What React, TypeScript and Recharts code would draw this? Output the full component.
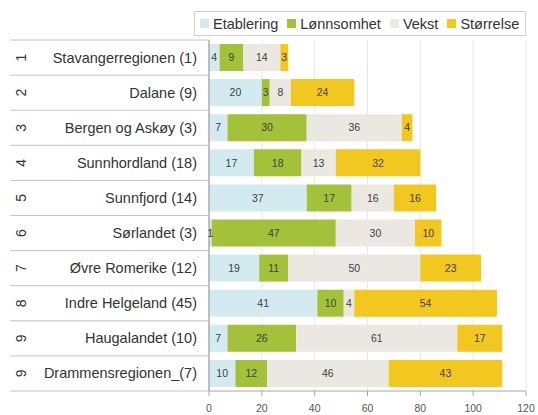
import React from "react";
import {
  BarChart,
  Bar,
  XAxis,
  YAxis,
  CartesianGrid,
  LabelList,
} from "recharts";

const regions = [
  "Stavangerregionen (1)",
  "Dalane (9)",
  "Bergen og Askøy (3)",
  "Sunnhordland (18)",
  "Sunnfjord (14)",
  "Sørlandet (3)",
  "Øvre Romerike (12)",
  "Indre Helgeland (45)",
  "Haugalandet (10)",
  "Drammensregionen_(7)",
];
const ranks = ["1", "2", "3", "4", "5", "6", "7", "8", "9", "9"];

const etablering = [4, 20, 7, 17, 37, 1, 19, 41, 7, 10];
const lonnsomhet = [9, 3, 30, 18, 17, 47, 11, 10, 26, 12];
const vekst = [14, 8, 36, 13, 16, 30, 50, 4, 61, 46];
const storrelse = [3, 24, 4, 32, 16, 10, 23, 54, 17, 43];

const xTicks = [0, 20, 40, 60, 80, 100, 120];

const seriesNames = ["Etablering", "Lønnsomhet", "Vekst", "Størrelse"];
const seriesKeys = ["etablering", "lonnsomhet", "vekst", "storrelse"];
const COLORS = ["#d3ebf0", "#a3c23a", "#ebe8e1", "#f2c71f"];

const data = regions.map((name, i) => ({
  name,
  rank: ranks[i],
  etablering: etablering[i],
  lonnsomhet: lonnsomhet[i],
  vekst: vekst[i],
  storrelse: storrelse[i],
}));

const W = 538;
const H = 415;
const AXIS_W = 209;
const TOP = 40;
const X_AXIS_H = 24;
const ROW_HALF = (H - TOP - X_AXIS_H) / regions.length / 2;
const FONT = "'Liberation Sans', Arial, sans-serif";

function CategoryTick(props: any) {
  const { y, payload, index } = props;
  const i = payload.index ?? index;
  const last = i === regions.length - 1;
  return (
    <g>
      <line x1={10} x2={AXIS_W} y1={y - ROW_HALF} y2={y - ROW_HALF} stroke="#c4c4c4" />
      {last && (
        <line x1={10} x2={AXIS_W} y1={y + ROW_HALF} y2={y + ROW_HALF} stroke="#c4c4c4" />
      )}
      <text
        x={21}
        y={y}
        transform={`rotate(-90 21 ${y})`}
        textAnchor="middle"
        dominantBaseline="central"
        fontSize={14}
        fill="#333"
        fontFamily={FONT}
      >
        {ranks[i]}
      </text>
      <text
        x={197}
        y={y}
        textAnchor="end"
        dominantBaseline="central"
        fontSize={14.5}
        fill="#333"
        fontFamily={FONT}
      >
        {payload.value}
      </text>
    </g>
  );
}

function XTick(props: any) {
  const { x, y, payload } = props;
  return (
    <text
      x={x}
      y={y}
      dy={13}
      textAnchor="middle"
      fontSize={10.5}
      fill="#555"
      fontFamily={FONT}
    >
      {payload.value}
    </text>
  );
}

function LegendBox() {
  return (
    <div
      style={{
        position: "absolute",
        left: 194,
        top: 11,
        width: 332,
        height: 25,
        boxSizing: "border-box",
        border: "1px solid #cfcfcf",
        background: "#fff",
        display: "flex",
        alignItems: "center",
        paddingLeft: 5,
        fontFamily: FONT,
        fontSize: 14.5,
        color: "#333",
      }}
    >
      {seriesNames.map((n, i) => (
        <div key={n} style={{ display: "flex", alignItems: "center", marginRight: 9 }}>
          <span
            style={{
              display: "inline-block",
              width: 9,
              height: 9,
              background: COLORS[i],
              marginRight: 4,
            }}
          />
          <span>{n}</span>
        </div>
      ))}
    </div>
  );
}

export default function App() {
  return (
    <div style={{ position: "absolute", left: 0, top: 0, width: W, height: H, background: "#fff" }}>
      <BarChart
        width={W}
        height={H}
        data={data}
        layout="vertical"
        margin={{ top: TOP, right: 12, bottom: 0, left: 0 }}
        barSize={27}
      >
        <CartesianGrid horizontal={false} stroke="#e6e6f0" />
        <XAxis
          type="number"
          domain={[0, 120]}
          ticks={xTicks}
          height={X_AXIS_H}
          tickSize={5}
          tickMargin={3}
          axisLine={{ stroke: "#a6a6a6" }}
          tickLine={{ stroke: "#a6a6a6" }}
          tick={<XTick />}
        />
        <XAxis
          xAxisId="top"
          orientation="top"
          type="number"
          domain={[0, 120]}
          height={0}
          tick={false}
          tickLine={false}
          axisLine={{ stroke: "#cfcfcf" }}
        />
        <YAxis
          type="category"
          dataKey="name"
          width={AXIS_W}
          tickLine={false}
          axisLine={{ stroke: "#8c8c8c" }}
          interval={0}
          tick={<CategoryTick />}
        />
        <YAxis
          yAxisId="right"
          orientation="right"
          type="category"
          dataKey="name"
          width={0}
          tick={false}
          tickLine={false}
          axisLine={{ stroke: "#b3b3b3" }}
        />
        {seriesKeys.map((k, i) => (
          <Bar
            key={k}
            dataKey={k}
            name={seriesNames[i]}
            stackId="a"
            fill={COLORS[i]}
            isAnimationActive={false}
          >
            <LabelList
              dataKey={k}
              position="center"
              fontSize={10.5}
              fill="#404040"
              fontFamily={FONT}
            />
          </Bar>
        ))}
      </BarChart>
      <LegendBox />
    </div>
  );
}
